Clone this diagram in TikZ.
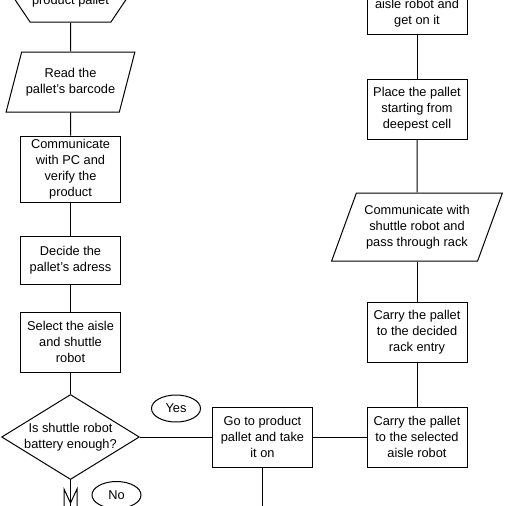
\documentclass[tikz,border=0pt]{standalone}
\usepackage{fontspec}
\setmainfont{Liberation Sans}
\usetikzlibrary{shapes.geometric,shapes.symbols}
\tikzset{
  flow/.style={draw,fill=white,line width=1pt,align=center,font=\fontsize{12.8}{16}\selectfont,inner sep=2pt},
  procbox/.style={flow,rectangle,minimum width=100pt,minimum height=60pt},
  iobox/.style={flow,trapezium,trapezium left angle=65,trapezium right angle=115,trapezium stretches=true},
  prep/.style={flow,signal,signal to=west and east,signal pointer angle=112},
  choice/.style={flow,diamond,aspect=1.62,inner sep=0pt,minimum width=136pt},
  answer/.style={flow,ellipse,inner sep=0pt,minimum width=49pt,minimum height=27pt},
  link/.style={line width=1pt}
}

\begin{document}
\begin{tikzpicture}[x=1pt,y=-1pt]
\fill[white] (0,0) rectangle (506,506);
\useasboundingbox (0,0) rectangle (506,506);
\clip (0,0) rectangle (506,506);
% left column
\node[prep,minimum width=94pt,minimum height=48pt,text height=16pt] (fetch) at (70.5,-2) {product pallet};
\node[iobox,minimum width=129pt,minimum height=60pt] (read) at (70.5,82) {Read the\\pallet's barcode};
\node[procbox,minimum height=66pt] (verify) at (70.5,169) {Communicate\\with PC and\\verify the\\product};
\node[procbox,minimum height=48pt] (address) at (70.5,260) {Decide the\\pallet's adress};
\node[procbox] (select) at (70.5,342) {Select the aisle\\and shuttle\\robot};
\node[choice] (battery) at (70.5,437) {Is shuttle robot\\battery enough?};
\node[answer] (yes) at (176,408.5) {Yes};
\node[answer] (no) at (116.5,495) {No};
% bottom row and right column
\node[procbox] (goto) at (262.5,437) {Go to product\\pallet and take\\it on};
\node[procbox] (carrysel) at (417,437) {Carry the pallet\\to the selected\\aisle robot};
\node[procbox] (carrydec) at (417,332) {Carry the pallet\\to the decided\\rack entry};
\node[iobox,minimum width=171pt,minimum height=68pt] (pass) at (417,227) {Communicate with\\shuttle robot and\\pass through rack};
\node[procbox] (place) at (417,109) {Place the pallet\\starting from\\deepest cell};
\node[procbox,minimum height=42pt] (geton) at (417,13) {aisle robot and\\get on it};
\coordinate (nodown) at (70.5,506);
\coordinate (godown) at (262.5,506);
\coordinate (mL) at (64,489);
\coordinate (mR) at (77,489);
\coordinate (mC) at (70.5,503);

\foreach \a/\b in {fetch/read,read/verify,verify/address,address/select,select/battery,
  battery/goto,goto/carrysel,carrysel/carrydec,carrydec/pass,pass/place,place/geton}
  \draw[link] (\a) -- (\b);
\draw[link] (battery.south) -- (nodown);
\draw[link] (goto.south) -- (godown);
\draw[link] (mL |- nodown) -- (mL) -- (mC) -- (mR) -- (mR |- nodown);
\end{tikzpicture}
\end{document}
